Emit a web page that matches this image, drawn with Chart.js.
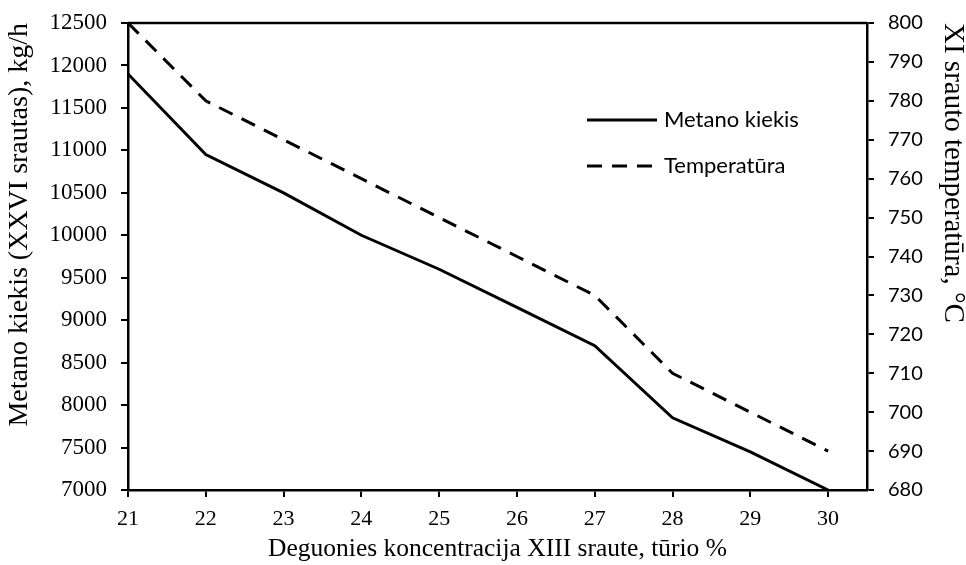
<!DOCTYPE html>
<html><head><meta charset="utf-8">
<script src="https://cdn.jsdelivr.net/npm/chart.js@4/dist/chart.umd.min.js"></script>
<style>html,body{margin:0;padding:0;background:#fff}#wrap{width:966px;height:565px}</style>
</head><body><div id="wrap"><canvas id="c" width="966" height="565"></canvas></div>
<script>
const oxygen = [21, 22, 23, 24, 25, 26, 27, 28, 29, 30];
const methane = [11900, 10950, 10500, 10000, 9600, 9150, 8700, 7850, 7450, 7000];
const temperature = [800, 780, 770, 760, 750, 740, 730, 710, 700, 690];
const leftTitle = 'Metano kiekis (XXVI srautas), kg/h';
const rightTitle = 'XI srauto temperatūra, °C';
const xTitle = 'Deguonies koncentracija XIII sraute, tūrio %';
const seriesNames = ['Metano kiekis', 'Temperatūra'];

const serif = "'Liberation Serif', 'Times New Roman', serif";
const sans = "Lato, 'Liberation Sans', sans-serif";

const frame = {
  id: 'frame',
  afterDatasetsDraw(chart) {
    const a = chart.chartArea, ctx = chart.ctx;
    ctx.save();
    ctx.strokeStyle = '#000'; ctx.lineWidth = 2.5;
    ctx.beginPath(); ctx.moveTo(a.left, a.top); ctx.lineTo(a.right, a.top); ctx.stroke();
    const ys = [120, 166];
    chart.data.datasets.forEach((d, i) => {
      ctx.strokeStyle = d.borderColor; ctx.lineWidth = d.borderWidth;
      ctx.setLineDash(d.borderDash || []);
      ctx.beginPath(); ctx.moveTo(587, ys[i]); ctx.lineTo(657, ys[i]); ctx.stroke();
      ctx.setLineDash([]);
      ctx.fillStyle = '#000'; ctx.font = '22px ' + sans; ctx.textBaseline = 'middle';
      ctx.fillText(d.label, 664, ys[i]);
    });
    ctx.restore();
  }
};

new Chart(document.getElementById('c'), {
  type: 'line',
  data: {
    datasets: [
      { label: seriesNames[0], data: oxygen.map((x, i) => ({x, y: methane[i]})), yAxisID: 'y',
        borderColor: '#000', borderWidth: 3, pointRadius: 0, tension: 0, fill: false },
      { label: seriesNames[1], data: oxygen.map((x, i) => ({x, y: temperature[i]})), yAxisID: 'y2',
        borderColor: '#000', borderWidth: 3, borderDash: [15, 10], pointRadius: 0, tension: 0, fill: false }
    ]
  },
  options: {
    responsive: false, animation: false,
    layout: { padding: { top: 23, left: 0, right: 0, bottom: 0 } },
    plugins: { legend: { display: false }, tooltip: { enabled: false } },
    scales: {
      x: {
        type: 'linear', min: 21, max: 30.5,
        afterFit(s) { s.height = 75; s.paddingLeft = 0; s.paddingRight = 0; },
        ticks: { stepSize: 1, includeBounds: false, color: '#000', font: { family: serif, size: 22 }, padding: 9,
          callback: v => (Number.isInteger(v) && v <= 30) ? String(v) : '' },
        grid: { drawOnChartArea: false, color: '#000', lineWidth: 2, tickLength: 7, tickColor: '#000' },
        border: { color: '#000', width: 2.5 },
        title: { display: true, text: xTitle, color: '#000', font: { family: serif, size: 25.5 }, padding: { top: 4, bottom: 0 } }
      },
      y: {
        position: 'left', min: 7000, max: 12500,
        afterFit(s) { s.width = 128; s.paddingTop = 0; s.paddingBottom = 0; },
        ticks: { stepSize: 500, color: '#000', font: { family: serif, size: 23 }, padding: 14,
          callback: v => String(v) },
        grid: { drawOnChartArea: false, color: '#000', lineWidth: 2, tickLength: 7, tickColor: '#000' },
        border: { color: '#000', width: 2.5 },
        title: { display: true, text: leftTitle, align: 'end', color: '#000', font: { family: serif, size: 28 }, padding: { top: 3, bottom: 0 } }
      },
      y2: {
        position: 'right', min: 680, max: 800,
        afterFit(s) { s.width = 99; s.paddingTop = 0; s.paddingBottom = 0; },
        ticks: { stepSize: 10, color: '#000', font: { family: sans, size: 20 }, padding: 14,
          callback: v => String(v) },
        grid: { drawOnChartArea: false, color: '#000', lineWidth: 2, tickLength: 7, tickColor: '#000' },
        border: { color: '#000', width: 2.5 },
        title: { display: true, text: rightTitle, align: 'end', color: '#000', font: { family: serif, size: 29 }, padding: { top: -4, bottom: 0 } }
      }
    }
  },
  plugins: [frame]
});
</script></body></html>
